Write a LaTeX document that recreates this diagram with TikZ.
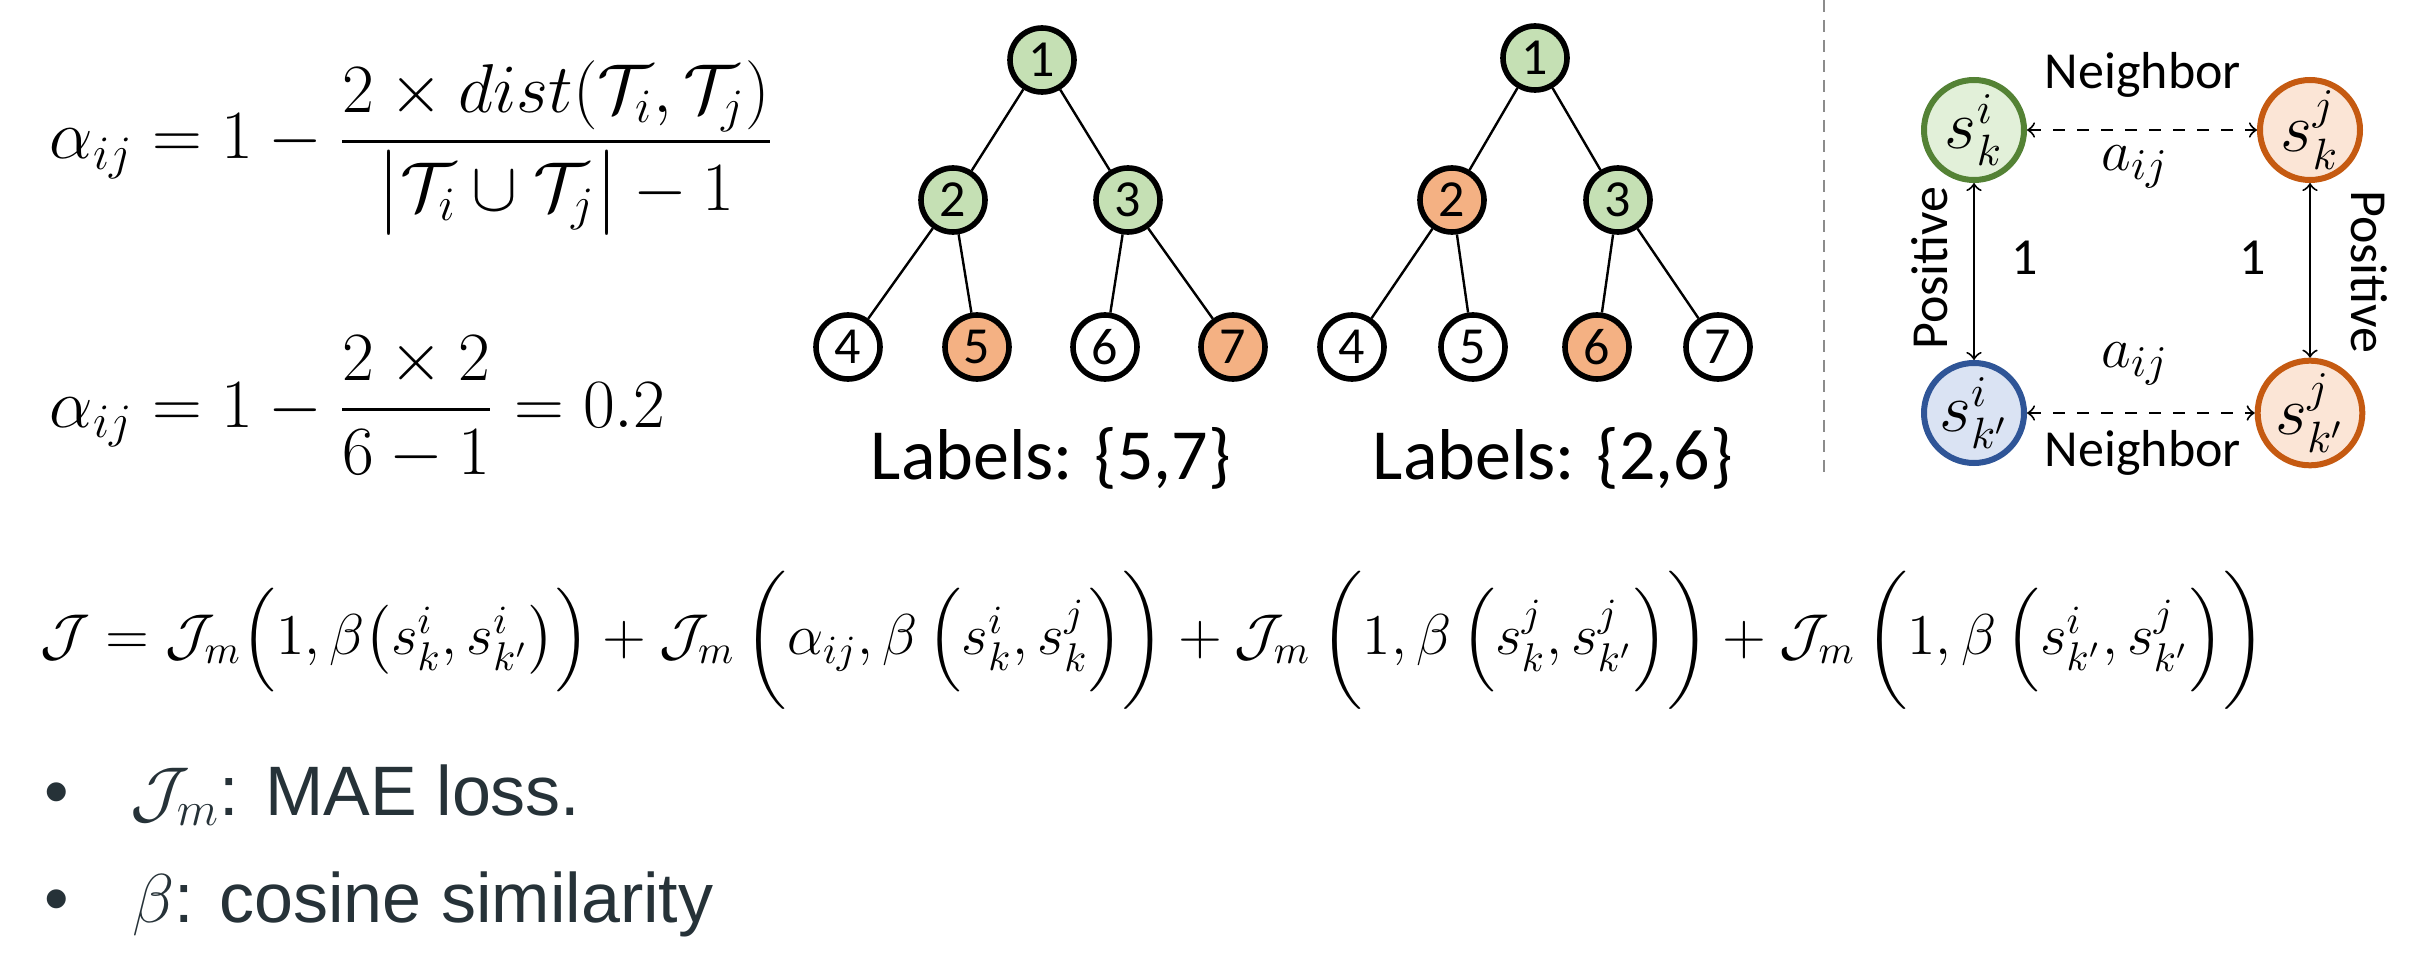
\documentclass[tikz,border=0pt]{standalone}
\usepackage{fontspec}
\usepackage{amsmath}
\newfontfamily\calibri{Carlito}
\newfontfamily\arial{Liberation Sans}
\begin{document}
\begin{tikzpicture}[x=0.25pt,y=-0.25pt,
  treenode/.style={circle,draw=black,line width=1.4pt,minimum size=16pt,inner sep=0pt,font=\calibri\fontsize{13}{13}\selectfont},
  leafnode/.style={treenode,fill=white},
  greennode/.style={treenode,fill=treeGreen},
  orangenode/.style={treenode,fill=treeOrange},
  tedge/.style={line width=0.6pt},
  embnode/.style={circle,line width=1.5pt,minimum size=25pt,inner sep=0pt,font=\fontsize{16}{16}\selectfont},
  cbtext/.style={inner sep=0pt,outer sep=0pt,font=\calibri\fontsize{13}{13}\selectfont},
  labeltext/.style={inner sep=0pt,outer sep=0pt,anchor=base,font=\calibri\fontsize{18}{18}\selectfont},
  wtext/.style={inner sep=0pt,outer sep=0pt,font=\fontsize{15}{15}\selectfont},
  eqtext/.style={inner sep=0pt,outer sep=0pt,anchor=base west,font=\fontsize{17}{17}\selectfont},
  bullettext/.style={inner sep=0pt,outer sep=0pt,anchor=base west,text=bulletColor,font=\arial\fontsize{17.5}{17.5}\selectfont}]
\definecolor{treeGreen}{RGB}{197,224,180}
\definecolor{treeOrange}{RGB}{244,177,131}
\definecolor{gDraw}{RGB}{84,130,53}
\definecolor{gFill}{RGB}{226,240,217}
\definecolor{oDraw}{RGB}{197,90,17}
\definecolor{oFill}{RGB}{251,229,214}
\definecolor{bDraw}{RGB}{47,85,151}
\definecolor{bFill}{RGB}{218,227,243}
\definecolor{bulletColor}{RGB}{38,50,56}
\definecolor{sepColor}{gray}{0.55}
\path[use as bounding box,fill=white] (0,0) rectangle (2434,962);

\node[eqtext] (eqa) at (50,159) {$\displaystyle \alpha_{ij}=1-\frac{2\times dist(\mathcal{T}_i,\mathcal{T}_j)}{\bigl|\mathcal{T}_i\cup\mathcal{T}_j\bigr|-1}$};
\node[eqtext] (eqb) at (50,427) {$\displaystyle \alpha_{ij}=1-\frac{2\times 2}{6-1}=0.2$};

\node[greennode] (a1) at (1042,60) {1};
\node[greennode] (a2) at (953,200) {2};
\node[greennode] (a3) at (1128,200) {3};
\node[leafnode] (a4) at (848,347) {4};
\node[orangenode] (a5) at (977,347) {5};
\node[leafnode] (a6) at (1105,347) {6};
\node[orangenode] (a7) at (1233,347) {7};
\draw[tedge] (a1) -- (a2);
\draw[tedge] (a1) -- (a3);
\draw[tedge] (a2) -- (a4);
\draw[tedge] (a2) -- (a5);
\draw[tedge] (a3) -- (a6);
\draw[tedge] (a3) -- (a7);
\node[labeltext] (alabel) at (1051,480) {Labels: \{5,7\}};

\node[greennode] (b1) at (1535,58) {1};
\node[orangenode] (b2) at (1452,200) {2};
\node[greennode] (b3) at (1618,200) {3};
\node[leafnode] (b4) at (1352,347) {4};
\node[leafnode] (b5) at (1473,347) {5};
\node[orangenode] (b6) at (1597,347) {6};
\node[leafnode] (b7) at (1718,347) {7};
\draw[tedge] (b1) -- (b2);
\draw[tedge] (b1) -- (b3);
\draw[tedge] (b2) -- (b4);
\draw[tedge] (b2) -- (b5);
\draw[tedge] (b3) -- (b6);
\draw[tedge] (b3) -- (b7);
\node[labeltext] (blabel) at (1553,480) {Labels: \{2,6\}};

\coordinate (septop) at (1824,0);
\coordinate (sepbot) at (1824,478);
\draw[sepColor,line width=0.5pt,dash pattern=on 3pt off 2pt] (septop) -- (sepbot);

\node[embnode,draw=gDraw,fill=gFill] (ski) at (1974,130) {$s_k^i$};
\node[embnode,draw=oDraw,fill=oFill] (skj) at (2310,130) {$s_k^j$};
\node[embnode,draw=bDraw,fill=bFill] (spi) at (1974,413) {$s_{k'}^i$};
\node[embnode,draw=oDraw,fill=oFill] (spj) at (2310,413) {$s_{k'}^j$};
\draw[<->,dashed,line width=0.5pt] (ski) -- (skj);
\draw[<->,dashed,line width=0.5pt] (spi) -- (spj);
\draw[<->,line width=0.5pt] (ski) -- (spi);
\draw[<->,line width=0.5pt] (skj) -- (spj);
\node[cbtext] (ntop) at (2143,75) {Neighbor};
\node[cbtext] (nbot) at (2143,453) {Neighbor};
\node[wtext] (atop) at (2135,167) {$a_{ij}$};
\node[wtext] (abot) at (2135,364) {$a_{ij}$};
\node[cbtext] (onel) at (2025,258) {1};
\node[cbtext] (oner) at (2253,258) {1};
\node[cbtext,rotate=90] (posl) at (1930,268) {Positive};
\node[cbtext,rotate=-90] (posr) at (2369,272) {Positive};

\node[inner sep=0pt,outer sep=0pt,anchor=west,font=\fontsize{14.9}{14.9}\selectfont] (loss) at (40,640) {$\mathcal{J}=\mathcal{J}_m\Big(1,\beta\big(s_k^i,s_{k'}^i\big)\Big)+\mathcal{J}_m\,\bigg(\alpha_{ij},\beta\,\Big(s_k^i,s_k^j\Big)\bigg)+\mathcal{J}_m\,\bigg(1,\beta\,\Big(s_k^j,s_{k'}^j\Big)\bigg)+\mathcal{J}_m\,\bigg(1,\beta\,\Big(s_{k'}^i,s_{k'}^j\Big)\bigg)$};

\node[bullettext] (dot1) at (44,815) {\textbullet};
\node[bullettext] (item1) at (130,815) {$\mathcal{J}_m$: MAE loss.};
\node[bullettext] (dot2) at (44,922) {\textbullet};
\node[bullettext] (item2) at (132,922) {$\beta$: cosine similarity};
\end{tikzpicture}
\end{document}
